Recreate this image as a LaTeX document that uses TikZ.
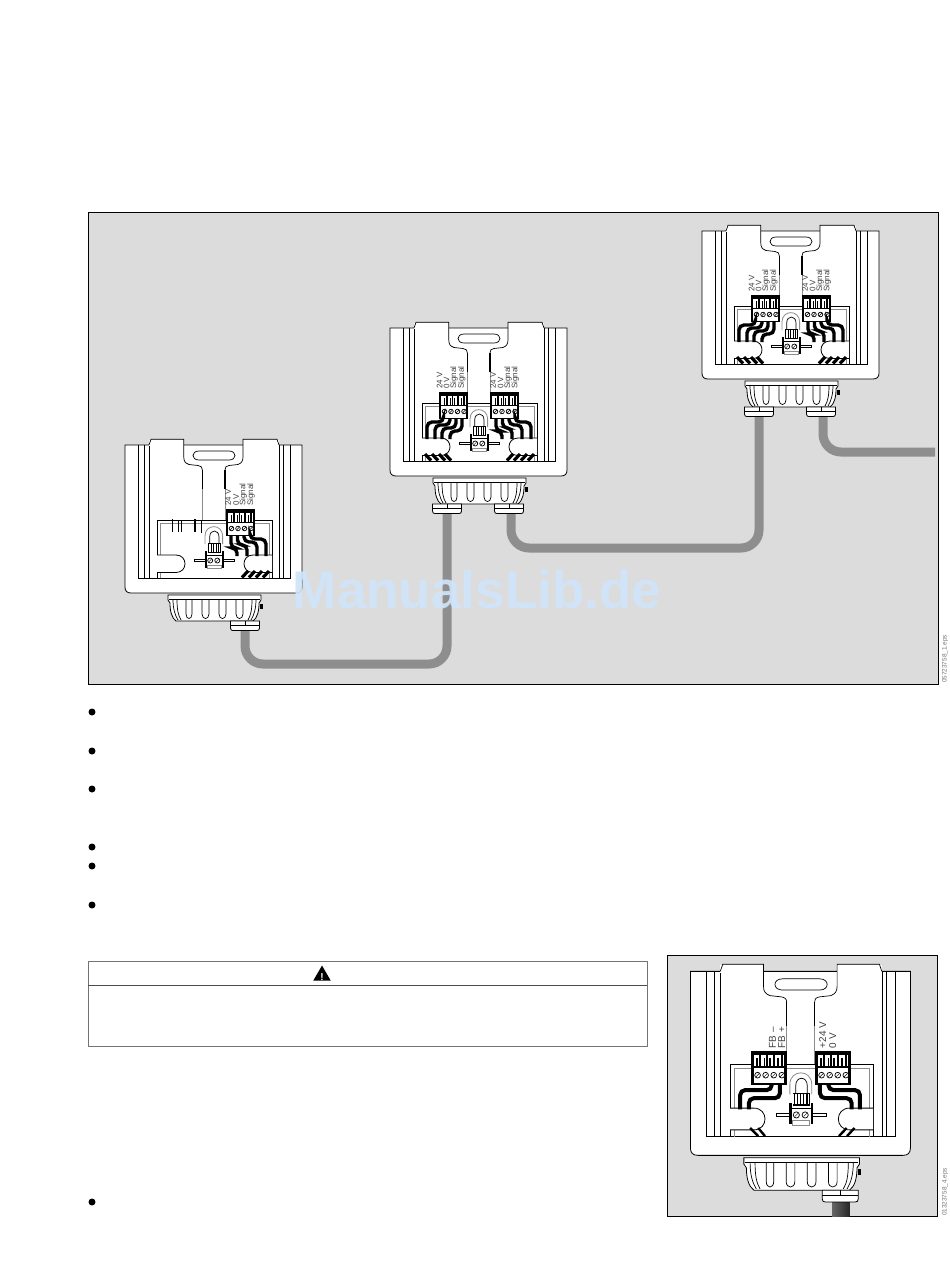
\documentclass[tikz,border=0pt]{standalone}
\usepackage{fontspec}
\setsansfont{Liberation Sans}
\usepackage{color}
\usepackage{tikz}
\usetikzlibrary{positioning,shapes.geometric}
\definecolor{panel}{RGB}{220,220,220}
\definecolor{cablegray}{RGB}{142,142,142}
\definecolor{markblue}{RGB}{207,228,250}

% housing of one unit, local coordinates
\newcommand{\devbody}{%
	\draw[house] (53,168) -- (146,168) -- (146,173) -- (144,176) .. controls (144,185) and (142,191) .. (138,194) -- (61,194) .. controls (57,191) and (55,185) .. (55,176) -- (53,173) -- cycle;
	\draw[thinl] (54,172) -- (145,172);
	\foreach \a/\b in {71/77,87/94,104/111,121/128} {\draw[thinl] (\a,172) -- (\a,187) .. controls (\a,193) and (\b,193) .. (\b,187) -- (\b,172);}
	\draw[thinl] (58,172) .. controls (58,182) and (60,188) .. (63,193);
	\draw[thinl] (62,172) .. controls (62,182) and (63,188) .. (66,193);
	\draw[thinl] (141,172) .. controls (141,182) and (139,188) .. (136,193);
	\draw[thinl] (137,172) .. controls (137,182) and (136,188) .. (133,193);
	\fill[black] (145,177) rectangle (147.500,182);
	\draw[house] (10,18) -- (187,18) -- (187,160) .. controls (187,164) and (185,166) .. (181,166) -- (16,166) .. controls (12,166) and (10,164) .. (10,160) -- cycle;
	\draw[thick] (23,18) -- (23,151) -- (175,151) -- (175,18);
	\draw[thinl] (29,18) -- (29,151);
	\draw[thinl] (168,18) -- (168,151);
	\draw[thinl] (34,18) -- (34,151);
	\draw[thinl] (164,18) -- (164,151);
	% tabs and the T between them
	\fill[white] (34,12.500) rectangle (68.500,19);
	\fill[white] (128,12.500) rectangle (164,19);
	\draw[thinl] (34,18) -- (36,12.300) -- (68.800,12.300) -- (68.800,30) .. controls (68.800,34) and (70,36) .. (74,37.500) -- (83,38.500) .. controls (86,39) and (87.400,40) .. (87.400,43);
	\draw[thinl] (164,18) -- (162,12.300) -- (128,12.300) -- (128,30) .. controls (128,34) and (126.500,36) .. (123,37.500) -- (114,38.500) .. controls (111,39) and (110,40) .. (110,43);
	\draw[line width=1.2pt] (87.400,43) -- (87.400,62);
	\draw[line width=1.2pt] (110,43) -- (110,62);
	\draw[gray] (87.400,62) -- (87.400,93);
	\draw[gray] (110,62) -- (110,93);
	\draw[thinl] (84,24) .. controls (76,24) and (76,33) .. (84,33) -- (114,33) .. controls (122,33) and (122,24) .. (114,24) -- cycle;
	% inner box and cut-outs
	\draw[thick] (42,151) -- (42,93) -- (157,93) -- (157,151);
	\draw[gray] (45,151) -- (45,96) -- (154,96) -- (154,151);
	\draw[house] (42,128) -- (61,128) .. controls (73,128) and (73,145.500) .. (61,145.500) -- (42,145.500);
	\draw[house] (157,128) -- (138,128) .. controls (126,128) and (126,145.500) .. (138,145.500) -- (157,145.500);
}
% terminal block, x = left edge
\newcommand{\termblock}[1]{%
	\begin{scope}[shift={(#1,82)}]
	\fill[white] (0,0) rectangle (29,27);
	\fill[black] (0,0) rectangle (29,3.500);
	\fill[black] (0,0) rectangle (2.300,14);
	\fill[black] (26.700,0) rectangle (29,14);
	\fill[black] (0,12.500) rectangle (29,14);
	\foreach \u in {4.500,10.500,15,21.500} {\fill[black] (\u,6) rectangle (\u+1.200,13);}
	\foreach \u in {7,12.500,18,24} {\fill[black] (\u,3) rectangle (\u+1.600,13);}
	\fill[black] (0,14) rectangle (2.300,27);
	\fill[black] (26.700,14) rectangle (29,27);
	\fill[black] (0,25.500) rectangle (29,27);
	\foreach \u in {5.500,12,18.500,25} {\draw[screw] (\u,19.500) circle[radius=2.300]; \draw[line width=0.4pt] (\u-1.300,20.800) -- (\u+1.300,18.200);}
	\end{scope}
}
% smaller block in the middle
\newcommand{\midblock}{%
	\draw[house,draw=black!45] (90,117) -- (90,109) .. controls (90,96.500) and (107.600,96.500) .. (107.600,109) -- (107.600,117);
	\draw[thinl] (94.700,117) -- (94.700,110) .. controls (94.700,102) and (104,102) .. (104,110) -- (104,117);
	\draw[thinl,fill=white] (79,132) rectangle (119.600,134.500);
	\fill[white] (92.700,116) rectangle (106,126);
	\fill[black] (92.700,116) rectangle (106,117);
	\fill[black] (92.700,125) rectangle (106,126.500);
	\foreach \u in {93,95.500,98,100.500,103,105} {\fill[black] (\u,116) rectangle (\u+1.200,126);}
	\fill[white] (91,126) rectangle (107,138);
	\draw[gray] (92,138) rectangle (106,141.600);
	\fill[black] (89.500,124) rectangle (91.500,141);
	\fill[black] (106.600,124) rectangle (108.600,141);
	\draw[line width=0.8pt] (91.500,128) -- (106.600,128);
	\foreach \u in {95.200,102.300} {\draw[screw] (\u,133.500) circle[radius=2.500]; \draw[line width=0.4pt] (\u-1.300,134.800) -- (\u+1.300,132.200);}
}
% cable gland under the housing
\newcommand{\glandpart}[1]{%
	\draw[house] (#1-14.500,194) -- (#1+14.500,194) -- (#1+14.500,201) .. controls (#1+14.500,203) and (#1+13.500,203.500) .. (#1+12,203.500) -- (#1-12,203.500) .. controls (#1-13.500,203.500) and (#1-14.500,203) .. (#1-14.500,201) -- cycle;
	\draw[thinl] (#1-14.500,198.500) -- (#1+14.500,198.500);
	\draw[thinl] (#1,194) -- (#1,198.500);
}
% wires, start:end:height
\newcommand{\wirefan}[2][3.400pt]{%
	\foreach \sx/\ex/\my in {#2} {\draw[line width=#1,black,rounded corners=5pt] (\sx,108) -- (\sx,\my) -- (\ex,\my) -- (\ex,129);}
}
\newcommand{\stubs}[2][3.200pt]{%
	\foreach \sx/\ex in {#2} {\draw[line width=#1,black] (\sx,144) -- (\ex,150.500);}
}

\begin{document}
\begin{tikzpicture}[x=1pt,y=-1pt]
\tikzstyle{house}=[draw=black,fill=white,line width=0.8pt]
\tikzstyle{thinl}=[draw=black,line width=0.7pt]
\tikzstyle{gray}=[draw=black!45,line width=0.6pt]
\tikzstyle{thick}=[draw=black,line width=1pt]
\tikzstyle{screw}=[draw=black,fill=white,line width=0.7pt]
\tikzstyle{cable}=[draw=cablegray,line width=9pt,rounded corners=18pt]
\tikzstyle{sig}=[inner sep=0,anchor=west,rotate=90,text=black!75,font=\sffamily\fontsize{8}{8}\selectfont]
\tikzstyle{dot}=[circle,fill=black,inner sep=0,minimum size=7pt]
\tikzstyle{filecode}=[inner sep=0,anchor=west,rotate=90,text=black!55,font=\sffamily\fontsize{6.4}{7}\selectfont]
\useasboundingbox (0,0) rectangle (950,1285);

\draw[draw=black,fill=panel,line width=0.9pt] (88.500,212.500) rectangle (938,684);
\draw[draw=black,fill=panel,line width=0.9pt] (667,955) rectangle (937,1216);

% cables between the units
\coordinate (gl_a) at (245,625);
\coordinate (gl_b) at (447,500);
\coordinate (gl_c) at (511,500);
\coordinate (gl_d) at (759,405);
\coordinate (gl_e) at (823,405);
\coordinate (low_a) at (245,664);
\coordinate (low_b) at (447,664);
\coordinate (low_c) at (511,548);
\coordinate (low_d) at (759,548);
\coordinate (low_e) at (823,452);
\coordinate (end_e) at (935,452);
\draw[cable] (gl_a) -- (low_a) -- (low_b) -- (gl_b);
\draw[cable] (gl_c) -- (low_c) -- (low_d) -- (gl_d);
\draw[cable] (gl_e) -- (low_e) -- (end_e);

% left unit
\begin{scope}[shift={(115,427)}]
\devbody
\glandpart{130}
\termblock{111}
\midblock
\wirefan{135/151/112,129/142/115,122.500/132/118,116/122/121}
\stubs{154/148,147/141,140/134,133/127}
\draw[line width=1.2pt] (57.500,92) -- (57.500,105);
\draw[thinl] (63.500,93) -- (63.500,105);
\draw[thinl] (66,93) -- (66,105);
\draw[line width=1.2pt] (80,92) -- (80,105);
\draw[line width=1.2pt] (86.500,93) -- (86.500,106);
\node[sig] (a_1) at (113,79) {24 V};
\node[sig] (a_2) at (121,79) {0 V};
\node[sig] (a_3) at (128.300,79) {Signal};
\node[sig] (a_4) at (136,79) {Signal};
\end{scope}

% middle unit
\begin{scope}[shift={(380,310)}]
\devbody
\glandpart{67}
\glandpart{129}
\termblock{59}
\termblock{110}
\midblock
\wirefan{63.500/47/112,70/55/115,76/62/118,82/70/121,135/151/112,129/142/115,122.500/132/118,116/122/121}
\stubs{45/51,52/58,59/65,65/71,154/148,147/141,140/134,133/127}
\node[sig] (b_1) at (59.500,79) {24 V};
\node[sig] (b_2) at (66.700,79) {0 V};
\node[sig] (b_3) at (74,79) {Signal};
\node[sig] (b_4) at (81.700,79) {Signal};
\node[sig] (b_5) at (113,79) {24 V};
\node[sig] (b_6) at (120.700,79) {0 V};
\node[sig] (b_7) at (128,79) {Signal};
\node[sig] (b_8) at (135.300,79) {Signal};
\end{scope}

% right unit
\begin{scope}[shift={(692,213)}]
\devbody
\glandpart{67}
\glandpart{129}
\termblock{59}
\termblock{110}
\midblock
\wirefan{63.500/47/112,70/55/115,76/62/118,82/70/121,135/151/112,129/142/115,122.500/132/118,116/122/121}
\stubs{45/51,52/58,59/65,65/71,154/148,147/141,140/134,133/127}
\node[sig] (c_1) at (59.500,79) {24 V};
\node[sig] (c_2) at (66.700,79) {0 V};
\node[sig] (c_3) at (74,79) {Signal};
\node[sig] (c_4) at (81.700,79) {Signal};
\node[sig] (c_5) at (113,79) {24 V};
\node[sig] (c_6) at (120.700,79) {0 V};
\node[sig] (c_7) at (128,79) {Signal};
\node[sig] (c_8) at (135.300,79) {Signal};
\end{scope}

% unit in the lower picture
\shade[left color=black!60,middle color=black!30,right color=black!85] (832,1200) rectangle (849.500,1216);
\begin{scope}[shift={(678,949)},scale=1.243,transform shape]
\devbody
\glandpart{130.500}
\termblock{58.500}
\termblock{110}
\midblock
\wirefan[4pt]{75.400/50/113.500,82/57/120,121/146.400/113.500,114.200/139.700/120}
\stubs[2.400pt]{58/64.500,64.500/70,135.700/129.500,142/136}
\node[sig] (d_1) at (76,80) {FB --};
\node[sig] (d_2) at (83.400,80) {FB +};
\node[sig] (d_3) at (116.400,80) {+24 V};
\node[sig] (d_4) at (124.400,80) {0 V};
\end{scope}

% warning box
\draw[draw=black!55,line width=0.8pt] (88,961) rectangle (647,1046);
\draw[draw=black!70,line width=0.8pt] (88,985) -- (647,985);
\node[isosceles triangle,isosceles triangle apex angle=60,shape border rotate=90,fill=black,inner sep=0,minimum height=15pt] (warn) at (322,975.500) {};
\node[inner sep=0,text=white,font=\sffamily\bfseries\fontsize{10}{10}\selectfont] (warn_mark) at (322,977) {!};

% bullets
\node[dot] (dot_1) at (92,712) {};
\node[dot] (dot_2) at (92,751) {};
\node[dot] (dot_3) at (92,789) {};
\node[dot] (dot_4) at (92,847) {};
\node[dot] (dot_5) at (92,866) {};
\node[dot] (dot_6) at (92,905) {};
\node[dot] (dot_7) at (92,1202) {};

\node[filecode] (code_a) at (945,683) {05723758\_1.eps};
\node[filecode] (code_b) at (945,1216) {01323758\_4.eps};

\node[anchor=base,inner sep=0,text=markblue,opacity=0.92,font=\sffamily\bfseries\fontsize{53}{53}\selectfont] (mark) at (477,608) {ManualsLib.de};
\end{tikzpicture}
\end{document}
